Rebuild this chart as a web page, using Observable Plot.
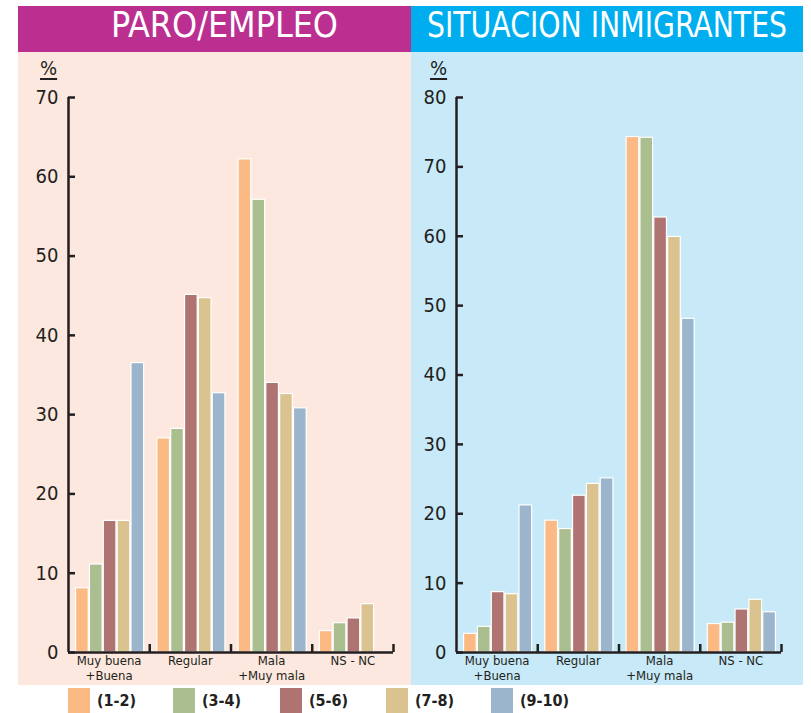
<!DOCTYPE html>
<html><head><meta charset="utf-8">
<script src="https://cdn.jsdelivr.net/npm/d3@7"></script>
<script src="https://cdn.jsdelivr.net/npm/@observablehq/plot@0.6"></script>
<style>
body{margin:0;background:#fff;width:811px;height:713px;position:relative;overflow:hidden;
 font-family:"Liberation Sans Narrow","Arial Narrow","DejaVu Sans Condensed","Liberation Sans",sans-serif;color:#231F20;}
.abs{position:absolute;}
.title{top:6px;height:46px;}
.tt{position:absolute;top:3px;color:#fff;font-size:36px;line-height:44px;white-space:nowrap;transform-origin:0 50%;}
.pct{top:56px;font-size:20px;text-decoration:underline;text-underline-offset:3px;}
.sw{width:22px;height:25px;top:688px;}
.lab{top:689px;font-size:16px;font-weight:bold;line-height:23px;}
</style></head>
<body>
<div class="abs title" style="left:18px;width:393px;background:#BB2F91"></div>
<div class="abs title" style="left:411px;width:392px;background:#00AEEF"></div>
<div class="tt" id="t1">PARO/EMPLEO</div>
<div class="tt" id="t2">SITUACION INMIGRANTES</div>
<div class="abs" style="left:18px;top:52px;width:393px;height:633px;background:#FCE8DE"></div>
<div class="abs" style="left:411px;top:52px;width:392px;height:633px;background:#C7E9F8"></div>
<div class="abs pct" style="left:40px">%</div>
<div class="abs pct" style="left:430px">%</div>
<div id="c1" class="abs" style="left:18px;top:52px"></div>
<div id="c2" class="abs" style="left:411px;top:52px"></div>
<div id="legend"></div>
<script>
const groups = ["Muy buena\n+Buena", "Regular", "Mala\n+Muy mala", "NS - NC"];
const series = ["(1-2)", "(3-4)", "(5-6)", "(7-8)", "(9-10)"];
const colors = ["#FBB984", "#ABBE8F", "#AF7472", "#DBC38F", "#9BB5CD"];
// values per group, in series order
const paroEmpleo = [
  [8.1, 11.1, 16.6, 16.6, 36.5],
  [27.0, 28.2, 45.1, 44.7, 32.7],
  [62.2, 57.1, 34.0, 32.6, 30.8],
  [2.7, 3.7, 4.3, 6.1, null]
];
const inmigrantes = [
  [2.7, 3.7, 8.7, 8.4, 21.2],
  [19.0, 17.8, 22.6, 24.3, 25.1],
  [74.3, 74.2, 62.7, 59.9, 48.1],
  [4.1, 4.3, 6.2, 7.6, 5.8]
];
const paroTicks = [0, 10, 20, 30, 40, 50, 60, 70];
const inmigTicks = [0, 10, 20, 30, 40, 50, 60, 70, 80];

const ink = "#231F20";
const OFF = 0.086, STEP = 0.1705;
const fontFam = '"Liberation Sans Narrow","Arial Narrow","DejaVu Sans Condensed","Liberation Sans",sans-serif';

function chart(values, ticks, width, marginLeft, marginRight) {
  const rows = [];
  values.forEach((vals, g) => vals.forEach((v, s) => { if (v != null) rows.push({g, s, v}); }));
  return Plot.plot({
    width, height: 633,
    marginLeft, marginRight, marginTop: 45, marginBottom: 33,
    x: {domain: [0, 4], axis: null},
    y: {domain: [0, d3.max(ticks)], axis: null},
    color: {domain: series, range: colors},
    style: {fontFamily: fontFam, background: "transparent", color: ink, overflow: "visible"},
    marks: [
      Plot.rectY(rows, {
        x1: d => d.g + OFF + d.s * STEP,
        x2: d => d.g + OFF + (d.s + 1) * STEP,
        y1: d => 0, y2: "v",
        fill: d => series[d.s],
        stroke: "white", strokeWidth: 1.2, insetLeft: 0.6, insetRight: 0.6
      }),
      Plot.ruleX([0], {stroke: ink, strokeWidth: 2.5}),
      Plot.ruleY([0], {stroke: ink, strokeWidth: 2.5}),
      Plot.axisY({ticks, label: null, tickSize: -7, tickPadding: 17, fontSize: 20, strokeWidth: 2.5, stroke: ink, tickFormat: d3.format("d")}),
      Plot.axisX({ticks: [1, 2, 3, 4], label: null, tickSize: -8, tickFormat: () => "", strokeWidth: 2.5, stroke: ink}),
      Plot.axisX({ticks: [0.5, 1.5, 2.5, 3.5], label: null, tickSize: 0, tickPadding: 3, fontSize: 13, lineHeight: 1.08,
        tickFormat: t => groups[Math.floor(t)]})
    ]
  });
}
document.getElementById("c1").append(chart(paroEmpleo, paroTicks, 393, 50, 18));
document.getElementById("c2").append(chart(inmigrantes, inmigTicks, 392, 45, 22));

// fit titles to the reference's condensed lettering
[["t1", 111, 227], ["t2", 427, 360]].forEach(([id, left, w]) => {
  const el = document.getElementById(id);
  const actual = el.getBoundingClientRect().width;
  el.style.left = left + "px";
  el.style.transform = `scaleX(${w / actual})`;
});

const lg = document.getElementById("legend");
const lx = [68, 173, 280, 386, 491];
series.forEach((s, i) => {
  const sw = document.createElement("div");
  sw.className = "abs sw"; sw.style.left = lx[i] + "px"; sw.style.background = colors[i];
  const lb = document.createElement("div");
  lb.className = "abs lab"; lb.style.left = (lx[i] + 29) + "px"; lb.textContent = s;
  lg.append(sw, lb);
});
</script>
</body></html>
